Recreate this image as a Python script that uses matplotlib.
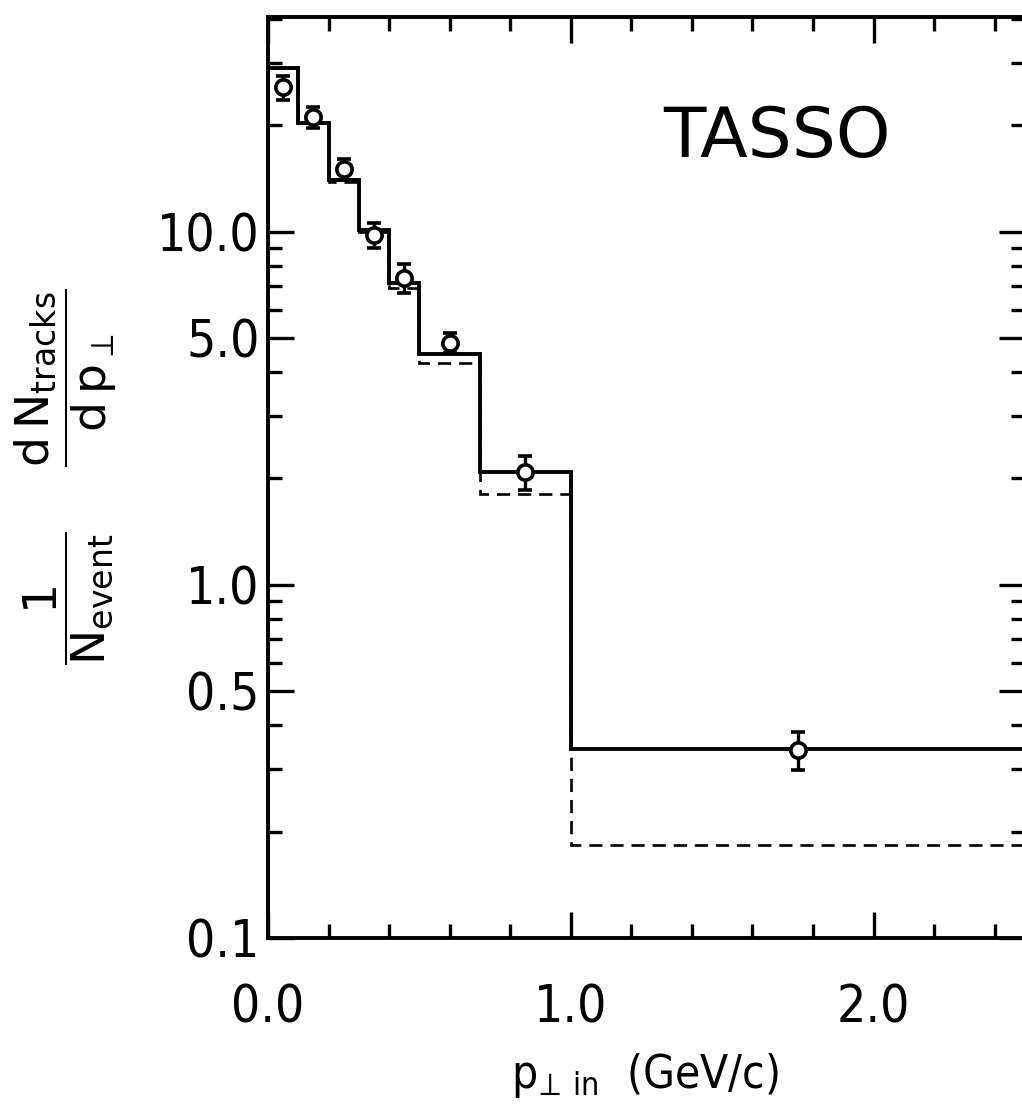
import matplotlib
matplotlib.use("Agg")
import matplotlib.pyplot as plt
from matplotlib.ticker import FixedLocator, FixedFormatter, NullFormatter

plt.rcParams['font.family'] = ['DejaVu Sans']
plt.rcParams['mathtext.fontset'] = 'dejavusans'
plt.rcParams['mathtext.default'] = 'regular'

# ---- data ----
bin_edges = [0.0, 0.1, 0.2, 0.3, 0.4, 0.5, 0.7, 1.0, 2.5]
model_solid = [29.0, 20.3, 14.0, 10.1, 7.15, 4.5, 2.08, 0.342]
model_dashed = [29.0, 20.3, 13.8, 10.0, 6.9, 4.25, 1.81, 0.183]

data_x = [0.05, 0.15, 0.25, 0.35, 0.45, 0.60, 0.85, 1.75]
data_y = [25.6, 21.1, 15.0, 9.8, 7.4, 4.85, 2.08, 0.341]
data_err = [2.0, 1.4, 1.0, 0.8, 0.7, 0.32, 0.23, 0.043]

x_major = [0.0, 1.0, 2.0]
x_major_labels = ["0.0", "1.0", "2.0"]
x_minor = [0.2, 0.4, 0.6, 0.8, 1.2, 1.4, 1.6, 1.8, 2.2, 2.4]
y_major = [0.1, 0.5, 1.0, 5.0, 10.0]
y_major_labels = ["0.1", "0.5", "1.0", "5.0", "10.0"]
y_minor = [0.2, 0.3, 0.4, 0.6, 0.7, 0.8, 0.9, 2, 3, 4, 6, 7, 8, 9, 20, 30, 40]

# ---- figure ----
W, H = 1022, 1111
fig = plt.figure(figsize=(W / 100, H / 100), dpi=100)
left, right, top, bottom = 268, 1025, 17, 938
ax = fig.add_axes([left / W, (H - bottom) / H, (right - left) / W, (bottom - top) / H])

ax.set_yscale('log')
ax.set_xlim(0, 2.5)
ax.set_ylim(0.1, 40.5)

# histograms (step)
ax.stairs(model_dashed, bin_edges, color='black', lw=1.9, linestyle=(0, (5, 3)), baseline=None)
ax.stairs(model_solid, bin_edges, color='black', lw=2.8, baseline=None)

# data points
ax.errorbar(data_x, data_y, yerr=data_err, fmt='o', mfc='white', mec='black', mew=2.6,
            ms=11, ecolor='black', elinewidth=2.4, capsize=5, capthick=2.6, zorder=5)

ax.text(1.68, 18.5, "TASSO", fontsize=50, ha='center', va='center')

# ticks
ax.xaxis.set_major_locator(FixedLocator(x_major))
ax.xaxis.set_major_formatter(FixedFormatter(x_major_labels))
ax.xaxis.set_minor_locator(FixedLocator(x_minor))
ax.xaxis.set_minor_formatter(NullFormatter())
ax.yaxis.set_major_locator(FixedLocator(y_major))
ax.yaxis.set_major_formatter(FixedFormatter(y_major_labels))
ax.yaxis.set_minor_locator(FixedLocator(y_minor))
ax.yaxis.set_minor_formatter(NullFormatter())

ax.tick_params(which='both', direction='in', top=True, right=True, width=2.4)
ax.tick_params(which='major', length=19)
ax.tick_params(which='minor', length=10)
ax.tick_params(axis='x', which='major', labelsize=37, pad=33)
ax.tick_params(axis='y', which='major', labelsize=37, pad=6)
for lab in ax.get_xticklabels() + ax.get_yticklabels():
    lab.set_fontstretch('condensed')

for s in ax.spines.values():
    s.set_linewidth(2.8)

fig.text(66 / W, 1 - 477 / H,
         r'$\dfrac{1}{N_{event}}\ \ \ \ \dfrac{d\,N_{tracks}}{d\,p_{\perp}}$',
         rotation=90, fontsize=34, ha='center', va='center')
fig.text(645 / W, 1 - 1075 / H, r'$p_{\!\perp\,in}$  (GeV/c)', fontsize=33,
         ha='center', va='center', fontstretch='condensed')

fig.savefig("out.png", dpi=100)
